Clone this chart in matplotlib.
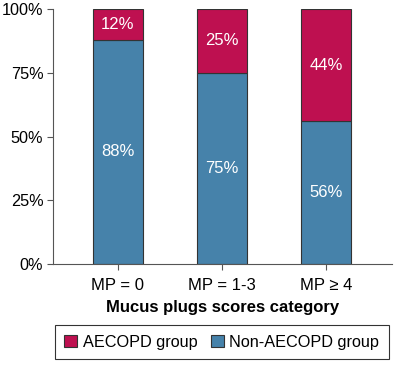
import matplotlib.pyplot as plt
from matplotlib.patches import Patch

plt.rcParams['font.family'] = ['Liberation Sans', 'DejaVu Sans']

# data
categories = ['MP = 0', 'MP = 1-3', 'MP \u2265 4']
non_aecopd = [88, 75, 56]
aecopd = [12, 25, 44]

red = '#BE1050'
blue = '#4682AA'
edge = '#333333'

fig = plt.figure(figsize=(3.94, 3.65), dpi=100)
ax = fig.add_axes([0.1345, 0.2767, 0.8605, 0.6986])

x = list(range(len(categories)))
b1 = ax.bar(x, non_aecopd, width=0.48, color=blue, edgecolor=edge, linewidth=0.8)
b2 = ax.bar(x, aecopd, width=0.48, bottom=non_aecopd, color=red, edgecolor=edge, linewidth=0.8)

for i in x:
    ax.text(i, non_aecopd[i] / 2, f'{non_aecopd[i]}%', ha='center', va='center',
            color='white', fontsize=12)
    ax.text(i, non_aecopd[i] + aecopd[i] / 2, f'{aecopd[i]}%', ha='center', va='center',
            color='white', fontsize=12)

ax.set_xlim(-0.625, 2.635)
ax.set_ylim(0, 100)
ax.set_yticks([0, 25, 50, 75, 100])
ax.set_yticklabels(['0%', '25%', '50%', '75%', '100%'], fontsize=11.7)
ax.set_xticks(x)
ax.set_xticklabels(categories, fontsize=12)
ax.set_xlabel('Mucus plugs scores category', fontsize=12, fontweight='bold', labelpad=5)

for s in ['top', 'right']:
    ax.spines[s].set_visible(False)
for s in ['left', 'bottom']:
    ax.spines[s].set_color('#555555')
    ax.spines[s].set_linewidth(0.8)
ax.tick_params(colors='#555555', length=4, width=0.8, labelcolor='black')
ax.tick_params(axis='x', pad=6)
ax.tick_params(axis='y', pad=3)

handles = [Patch(facecolor=red, edgecolor=edge, linewidth=0.8, label='AECOPD group'),
           Patch(facecolor=blue, edgecolor=edge, linewidth=0.8, label='Non-AECOPD group')]
leg = fig.legend(handles=handles, loc='center', bbox_to_anchor=(0.563, 0.063), ncol=2,
                 fontsize=11.7, frameon=True, fancybox=False, edgecolor='black',
                 handlelength=0.8, handleheight=0.8, handletextpad=0.35, columnspacing=0.8,
                 borderpad=0.6, borderaxespad=0)
leg.get_frame().set_linewidth(0.8)

fig.savefig('out.png', dpi=100)
